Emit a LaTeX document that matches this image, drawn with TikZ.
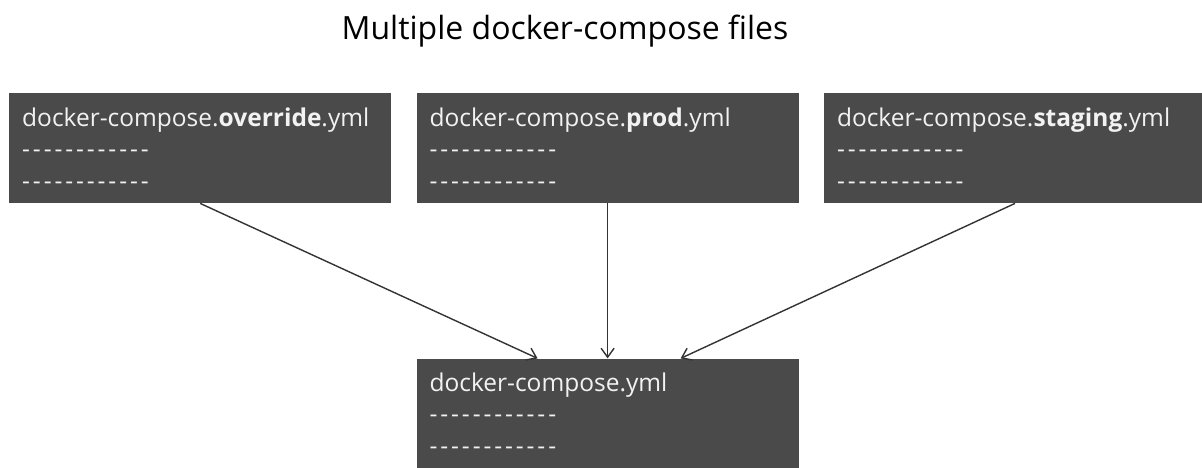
\documentclass[tikz,border=0pt]{standalone}
\usepackage{fontspec}
\setmainfont{Open Sans}[Ligatures=TeXOff]
\usetikzlibrary{positioning,calc,arrows.meta}
\definecolor{boxgray}{HTML}{4A4A4A}
\definecolor{linegray}{HTML}{333333}
\definecolor{boxtext}{HTML}{F2F2F2}
\newcommand{\dashrow}{\foreach \i in {1,...,12}{-\kern2.9pt}}

\begin{document}
\begin{tikzpicture}[
    x=1pt, y=-1pt,
    node distance=25pt,
    file/.style={rectangle, fill=boxgray, text=boxtext, anchor=north west,
        minimum width=382pt, minimum height=110pt, text width=356pt,
        inner xsep=13pt, inner ysep=0pt, align=left,
        font=\fontsize{24.5}{31.5}\selectfont},
    merge/.style={-{Straight Barb[length=9pt, width=13pt]}, draw=linegray, line width=1.4pt}
]
    \useasboundingbox (0,0) rectangle (1202,467);

    % Title
    \node[anchor=base, font=\fontsize{32}{36}\selectfont] (title) at (565,39) {Multiple docker-compose files};

    % Source files
    \node[file] (override) at (9,93) {docker-compose.\textbf{override}.yml\\\dashrow\\\dashrow};
    \node[file, right=of override] (prod) {docker-compose.\textbf{prod}.yml\\\dashrow\\\dashrow};
    \node[file, right=of prod] (staging) {docker-compose.\textbf{staging}.yml\\\dashrow\\\dashrow};

    % Result
    \node[file, below=155pt of prod] (final) {docker-compose.yml\\\dashrow\\\dashrow};

    % Edges
    \draw[merge] (override.south) -- ($(final.north)+(-70,0)$);
    \draw[merge] (prod.south) -- (final.north);
    \draw[merge] (staging.south) -- ($(final.north)+(73,0)$);
\end{tikzpicture}
\end{document}
